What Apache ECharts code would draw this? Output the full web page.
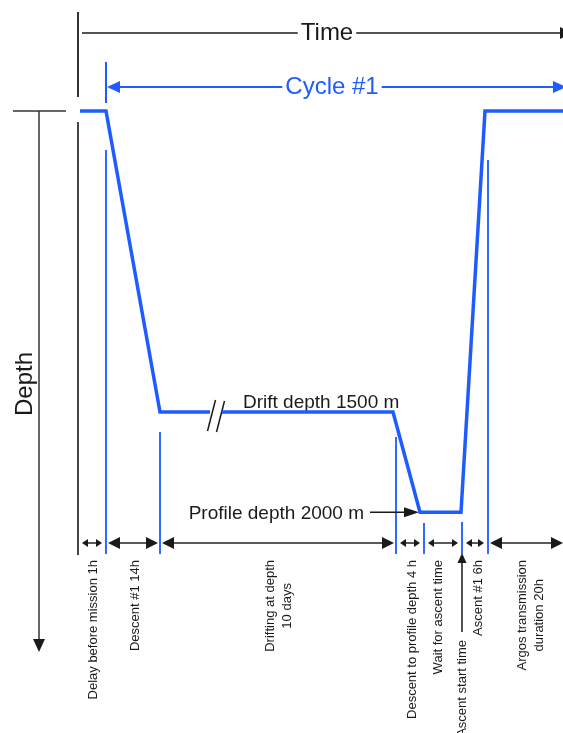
<!DOCTYPE html>
<html lang="en">
<head>
  <meta charset="UTF-8">
  <title>Float cycle</title>
  <script src="https://cdn.jsdelivr.net/npm/echarts@6/dist/echarts.min.js"></script>
  <style>html, body { margin: 0; padding: 0; background: #fff; }</style>
</head>
<body>
<div id="main" style="width: 563px; height: 733px"></div>
<script>

  // phases of one cycle, left to right (labels under the time line)
  var phaseNames = [
    'Delay before mission 1h',
    'Descent #1 14h',
    'Drifting at depth\n10 days',
    'Descent to profile depth 4 h',
    'Wait for ascent time',
    'Ascent #1 6h',
    'Argos transmission\nduration 20h'
  ];
  // schematic time of each phase boundary (time axis is not to scale)
  var phaseEdges = [0, 28, 82, 318, 346, 384, 410, 485];

  // float track: schematic time / depth in m
  var profileTime = [2, 28, 82, 132, 144, 315, 342, 383, 407, 485];
  var profileDepth = [0, 0, 1500, 1500, 1500, 1500, 2000, 2000, 0, 0];
  var breakAt = 4;            // drift line is cut (axis break) before this point
  var driftDepth = 1500;
  var parkProfileDepth = 2000;
  var ascentEdge = 5;         // boundary where the ascent starts
  var cycleEdge = 1;          // cycle #1 starts after the delay

  var BLUE = '#1f5cff';
  var INK = '#1a1a1a';
  var FONT = '"Liberation Sans", Arial, Helvetica, sans-serif';

  var chart = echarts.init(document.getElementById('main'));

  function track(from, to) {
    var out = [];
    for (var i = from; i < to; i++) out.push([profileTime[i], profileDepth[i]]);
    return out;
  }

  chart.setOption({
    animation: false,
    grid: {left: 78, right: 0, top: 111, bottom: 0},
    xAxis: {type: 'value', min: 0, max: 485, show: false},
    yAxis: {type: 'value', min: 0, max: 3100, inverse: true, show: false},
    series: [
      {type: 'line', data: track(0, breakAt), symbol: 'none', clip: false,
        lineStyle: {color: BLUE, width: 3.5, join: 'miter'}},
      {type: 'line', data: track(breakAt, profileTime.length), symbol: 'none', clip: false,
        lineStyle: {color: BLUE, width: 3.5, join: 'miter'}}
    ]
  });

  function px(t) { return chart.convertToPixel({xAxisIndex: 0}, t); }
  function py(d) { return chart.convertToPixel({yAxisIndex: 0}, d); }

  var ctx = document.createElement('canvas').getContext('2d');
  function textWidth(str, size) {
    ctx.font = size + 'px ' + FONT;
    return Math.max.apply(null, str.split('\n').map(function (s) { return ctx.measureText(s).width; }));
  }

  function seg(x1, y1, x2, y2, color, w) {
    return {type: 'line', shape: {x1: x1, y1: y1, x2: x2, y2: y2}, style: {stroke: color, lineWidth: w}};
  }
  // filled arrow head; dir = 'l' | 'r' | 'u' | 'd'
  function head(x, y, dir, len, half, color) {
    var p;
    if (dir === 'r') p = [[x, y], [x - len, y - half], [x - len, y + half]];
    if (dir === 'l') p = [[x, y], [x + len, y - half], [x + len, y + half]];
    if (dir === 'u') p = [[x, y], [x - half, y + len], [x + half, y + len]];
    if (dir === 'd') p = [[x, y], [x - half, y - len], [x + half, y - len]];
    return {type: 'polygon', shape: {points: p}, style: {fill: color}};
  }
  function text(str, x, y, size, color, opt) {
    opt = opt || {};
    return {
      type: 'text', x: x, y: y, rotation: opt.rotation || 0,
      style: {
        text: str, fill: color, fontSize: size, fontFamily: FONT,
        align: opt.align || 'center', verticalAlign: 'middle', lineHeight: opt.lineHeight
      }
    };
  }
  // horizontal line interrupted by a centred title
  function titledLine(x1, x2, y, title, cx, size, color, w) {
    var tw = textWidth(title, size) / 2 + 3;
    return [seg(x1, y, cx - tw, y, color, w), seg(cx + tw, y, x2, y, color, w), text(title, cx, y, size, color)];
  }

  function build() {
    var g = [];
    var left = px(phaseEdges[0]);
    var right = px(phaseEdges[phaseEdges.length - 1]);
    var ySurf = py(0);

    // time axis
    g.push(seg(left, 12, left, 97, '#333', 2));
    g = g.concat(titledLine(left + 4, right, 33, 'Time', 327, 24, INK, 1.5));
    g.push(head(right + 9, 33, 'r', 12, 6, INK));

    // cycle #1
    var c0 = px(phaseEdges[cycleEdge]);
    g.push(seg(c0, 62, c0, 103, BLUE, 2));
    g = g.concat(titledLine(c0 + 4, right - 4, 87, 'Cycle #1', 332, 24, BLUE, 2));
    g.push(head(c0 + 1, 87, 'l', 13, 6, BLUE));
    g.push(head(right + 3, 87, 'r', 13, 6, BLUE));

    // depth axis
    g.push(seg(13, ySurf, 66, ySurf, '#333', 1.5));
    g.push(seg(39, ySurf, 39, 642, '#333', 1.5));
    g.push(head(39, 652, 'd', 13, 6, INK));
    g.push(text('Depth', 25, 384, 24, INK, {rotation: Math.PI / 2}));

    // left start line
    g.push(seg(left, 122, left, 555, '#444', 2));

    // blue guide lines at phase boundaries
    var guideTop = [null, 150, 432, 437, 523, 522, 160];
    for (var i = 1; i < phaseEdges.length - 1; i++) {
      var gx = px(phaseEdges[i]);
      g.push(seg(gx, guideTop[i], gx, 554, '#2f6bff', 2));
    }

    // duration arrows and rotated labels
    var yDim = 543;
    var shift = [1, 2, 1, 2, -5, 3, 5];
    for (var k = 0; k < phaseNames.length; k++) {
      var a = px(phaseEdges[k]), b = px(phaseEdges[k + 1]);
      var big = (b - a) >= 45;
      var len = big ? 12 : 6, half = big ? 6 : 4, inset = big ? 2 : 4;
      var xa = a + inset, xb = (k === phaseNames.length - 1) ? b : b - inset;
      g.push(seg(xa + len - 1, yDim, xb - len + 1, yDim, '#222', 1.5));
      g.push(head(xa, yDim, 'l', len, half, INK));
      g.push(head(xb, yDim, 'r', len, half, INK));
      var w = textWidth(phaseNames[k], 13);
      g.push(text(phaseNames[k], (a + b) / 2 + shift[k], 560 + w / 2, 13, INK,
        {rotation: Math.PI / 2, lineHeight: 17}));
    }

    // ascent start marker
    var xs = px(phaseEdges[ascentEdge]);
    g.push(seg(xs, 632, xs, 562, INK, 1.5));
    g.push(head(xs, 553, 'u', 10, 4.5, INK));
    var ws = textWidth('Ascent start time', 13);
    g.push(text('Ascent start time', xs, 640 + ws / 2, 13, INK, {rotation: Math.PI / 2}));

    // depth labels
    var yDrift = py(driftDepth);
    g.push(text('Drift depth 1500 m', px(165), yDrift - 9, 19, INK, {align: 'left'}));
    var yProf = py(parkProfileDepth);
    var tipX = px(profileTime[breakAt + 2]) - 1;
    g.push(text('Profile depth 2000 m', 364, yProf + 1, 19, INK, {align: 'right'}));
    g.push(seg(370, yProf, tipX - 12, yProf, INK, 1.5));
    g.push(head(tipX, yProf, 'r', 15, 5, INK));

    // axis break marks on the drift line
    var bx = (px(profileTime[breakAt - 1]) + px(profileTime[breakAt])) / 2;
    g.push(seg(bx - 8.5, yDrift + 19, bx - 0.5, yDrift - 12, INK, 1.5));
    g.push(seg(bx + 0.5, yDrift + 20, bx + 8.5, yDrift - 11, INK, 1.5));

    chart.setOption({graphic: {elements: g}});
  }
  build();

</script>
</body>
</html>
